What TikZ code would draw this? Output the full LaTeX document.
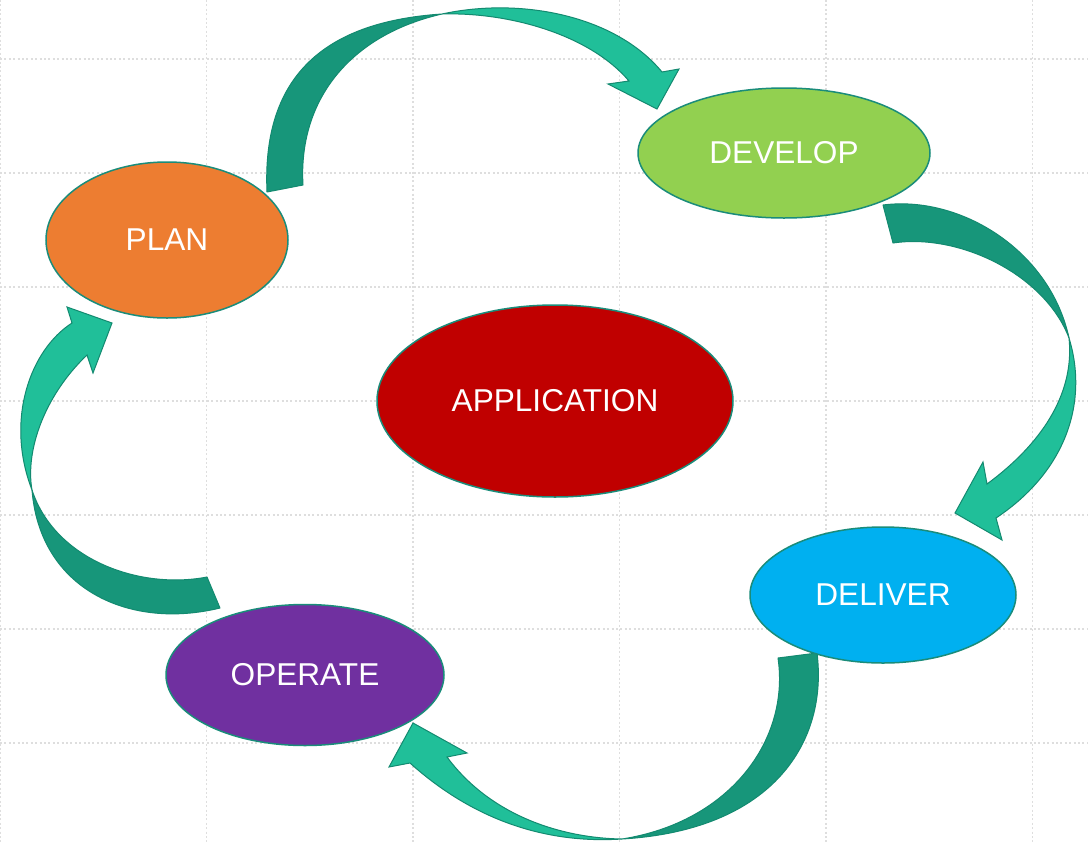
\documentclass[tikz,border=0pt]{standalone}
\usepackage{fontspec}
\setmainfont{Liberation Sans}
\usetikzlibrary{shapes.geometric}
\definecolor{light}{HTML}{20BF99}
\definecolor{dark}{HTML}{17967A}
\definecolor{edge}{HTML}{138A70}
\definecolor{rim}{HTML}{1A8C7A}
\definecolor{gridc}{HTML}{DEDEDE}
\definecolor{cplan}{HTML}{ED7D31}
\definecolor{cdev}{HTML}{92D050}
\definecolor{capp}{HTML}{C00000}
\definecolor{cdel}{HTML}{00B0F0}
\definecolor{cop}{HTML}{7030A0}
\tikzset{
  gridline/.style={gridc, line width=1.6pt, dash pattern=on 2pt off 2.4pt},
  phase/.style={ellipse, draw=rim, line width=1.5pt, inner sep=0pt, text=white,
    font=\fontsize{31.6}{36}\selectfont},
  backpart/.style={fill=dark, draw=edge, line width=1pt, line join=round},
  frontpart/.style={fill=light, draw=edge, line width=1pt, line join=miter},
}
\begin{document}
\begin{tikzpicture}[x=1pt,y=-1pt]
\useasboundingbox[fill=white] (0,0) rectangle (1088,844);
% grid
\foreach \gx in {0,206.5,413,619.5,826,1032.5} \draw[gridline] (\gx,0) -- (\gx,844);
\foreach \gy in {59,173,287,401,515,629,743} \draw[gridline] (0,\gy) -- (1088,\gy);

% arrow 1: PLAN -> DEVELOP
\coordinate (t1) at (442,14);
\path[backpart] (267,192) .. controls (262,80) and (320,22) .. (t1)
  .. controls (350,35) and (298,100) .. (303,185) -- cycle;
\path[frontpart] (t1) .. controls (520,-3) and (615,15) .. (662,72)
  -- (679,69) -- (657,109) -- (608,84) -- (629,81)
  .. controls (590,35) and (510,12) .. (t1) -- cycle;

% arrow 2: DEVELOP -> DELIVER
\coordinate (t2) at (1069,338);
\path[backpart] (883,205) .. controls (960,195) and (1050,250) .. (t2)
  .. controls (1045,275) and (960,233) .. (893,243) -- cycle;
\path[frontpart] (t2) .. controls (1088,400) and (1068,470) .. (996,518)
  -- (1002,540) -- (955,513) -- (983,462) -- (987,484)
  .. controls (1040,445) and (1075,395) .. (t2) -- cycle;

% arrow 3: DELIVER -> OPERATE
\coordinate (t3) at (622,839);
\path[backpart] (817,653) .. controls (828,740) and (775,830) .. (t3)
  .. controls (730,822) and (790,740) .. (778,658) -- cycle;
\path[frontpart] (t3) .. controls (530,845) and (460,808) .. (410,763)
  -- (389,767) -- (413,723) -- (467,753) -- (447,757)
  .. controls (490,815) and (560,838) .. (t3) -- cycle;

% arrow 4: OPERATE -> PLAN
\coordinate (t4) at (32,490);
\path[backpart] (220,608) .. controls (130,630) and (40,590) .. (t4)
  .. controls (55,560) and (140,590) .. (207,577) -- cycle;
\path[frontpart] (t4) .. controls (5,420) and (30,350) .. (72,323)
  -- (67,307) -- (112,323) -- (93,373) -- (87,355)
  .. controls (45,395) and (25,450) .. (t4) -- cycle;

% phases
\node[phase, fill=cplan, minimum width=242pt, minimum height=156pt] (plan) at (167,240) {PLAN};
\node[phase, fill=cdev, minimum width=292pt, minimum height=130pt] (develop) at (784,153) {DEVELOP};
\node[phase, fill=capp, minimum width=356pt, minimum height=192pt] (app) at (555,401) {APPLICATION};
\node[phase, fill=cdel, minimum width=266pt, minimum height=136pt] (deliver) at (883,595) {DELIVER};
\node[phase, fill=cop, minimum width=278pt, minimum height=141pt] (operate) at (305,675) {OPERATE};
\end{tikzpicture}
\end{document}
